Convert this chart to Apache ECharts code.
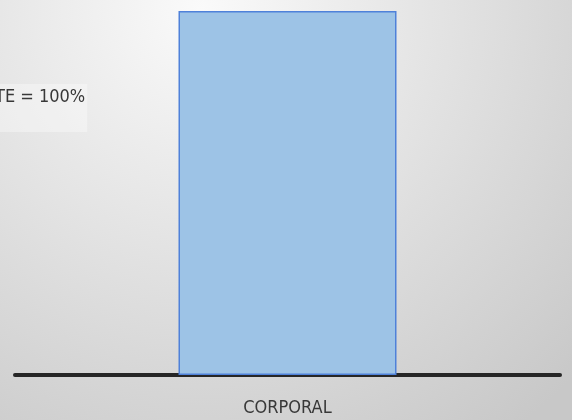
<!DOCTYPE html>
<html>
<head>
<meta charset="utf-8">
<style>
  html, body { margin: 0; padding: 0; }
  #chart { width: 572px; height: 420px; }
</style>
<script src="https://cdn.jsdelivr.net/npm/echarts@6/dist/echarts.min.js"></script>
</head>
<body>
<div id="chart"></div>
<script>
// chart data
var categories = ['CORPORAL'];
var values = [100];
var yMax = 100;
var noteText = 'TE = 100%';

var FONT = '"DejaVu Sans Condensed", "Open Sans", sans-serif';

var chart = echarts.init(document.getElementById('chart'));

chart.setOption({
    backgroundColor: {
        type: 'radial',
        x: 0.35, y: 0.02, r: 1.25,
        colorStops: [
            { offset: 0, color: '#fafafa' },
            { offset: 1, color: '#c8c8c8' }
        ]
    },
    animation: false,
    grid: { left: 15, right: 12, top: 11, bottom: 45 },
    xAxis: {
        type: 'category',
        data: categories,
        axisLine: { lineStyle: { color: '#262626', width: 4 } },
        axisTick: { show: false },
        axisLabel: {
            color: '#383838',
            fontFamily: FONT,
            fontSize: 18,
            margin: 24
        }
    },
    yAxis: {
        type: 'value',
        min: 0,
        max: yMax,
        show: false
    },
    graphic: [{
        type: 'text',
        left: -7,
        top: 84,
        style: {
            text: noteText,
            fill: '#383838',
            font: '18px ' + FONT,
            backgroundColor: 'rgba(255,255,255,0.35)',
            padding: [4, 2, 26, 2]
        }
    }],
    series: [{
        type: 'bar',
        data: values,
        barWidth: '40%',
        itemStyle: {
            color: '#9dc3e6',
            borderColor: '#4f81d9',
            borderWidth: 1.5
        }
    }]
});
</script>
</body>
</html>
